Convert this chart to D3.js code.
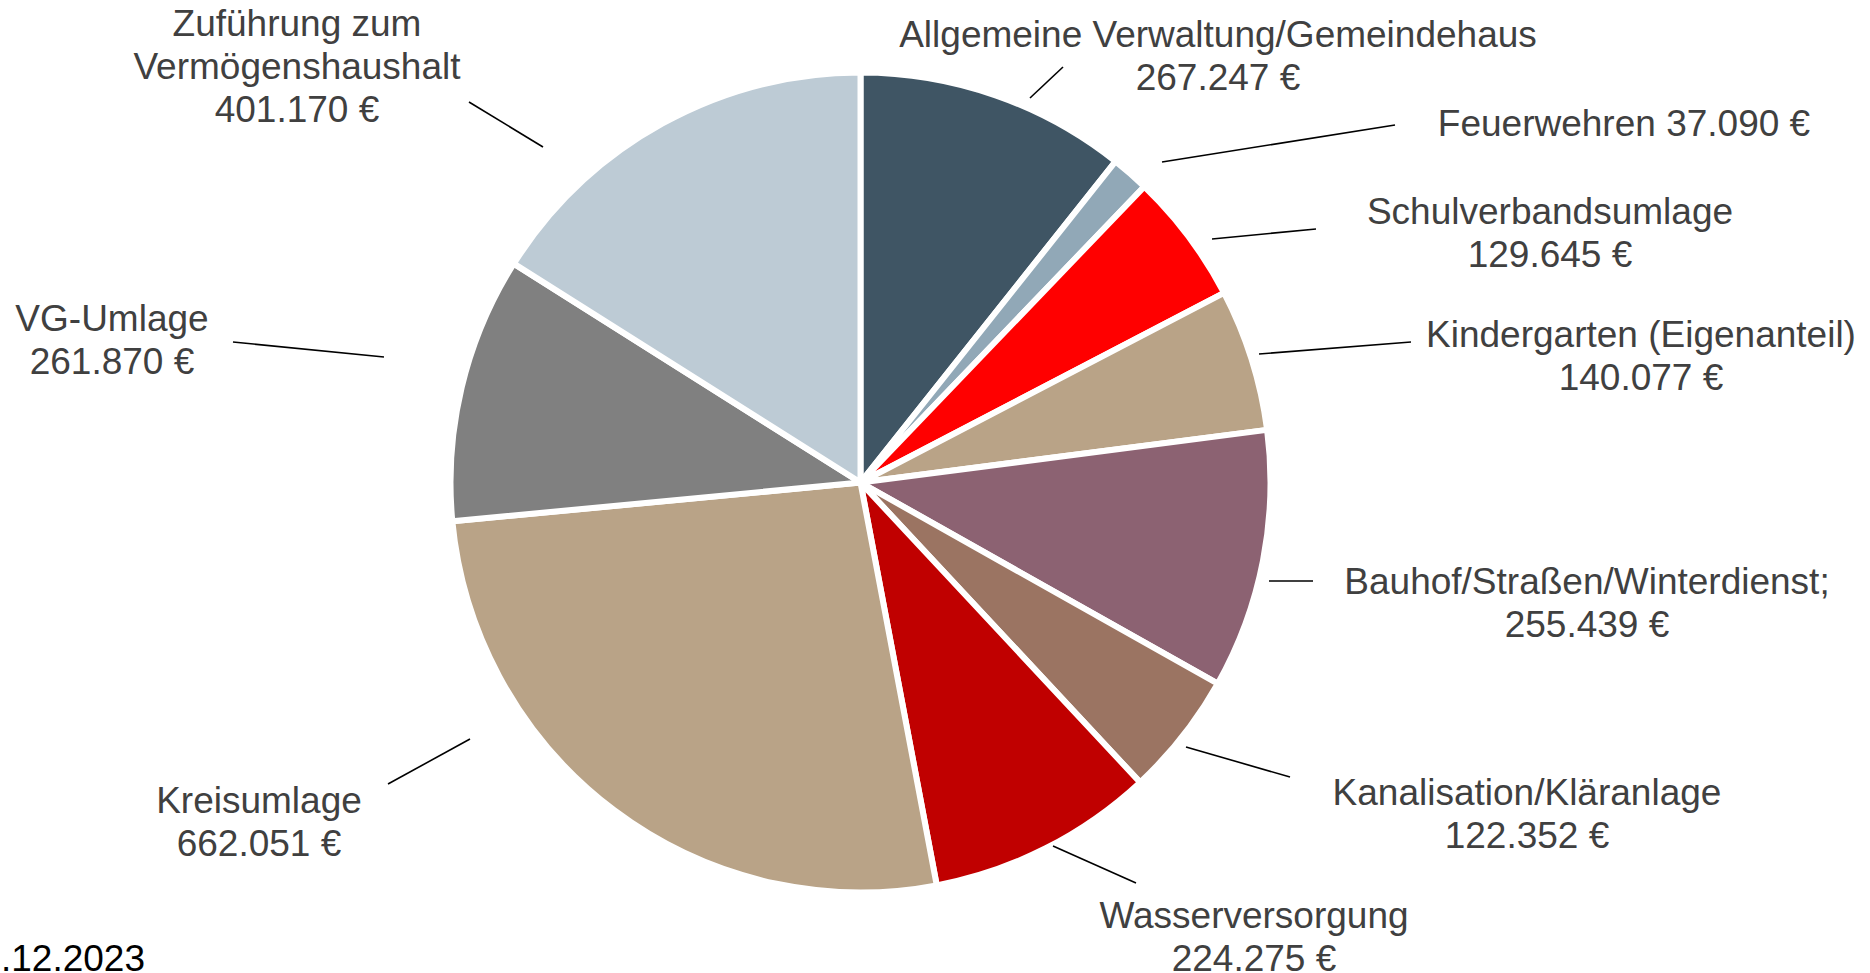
<!DOCTYPE html>
<html><head><meta charset="utf-8">
<script src="https://cdn.jsdelivr.net/npm/d3@7"></script>
<style>
html,body{margin:0;padding:0;background:#fff;overflow:hidden;}
svg{display:block;}
</style></head>
<body>
<svg id="chart" width="1870" height="973"></svg>
<script>
// ---- data ----
const categories = [
  "Allgemeine Verwaltung/Gemeindehaus",
  "Feuerwehren",
  "Schulverbandsumlage",
  "Kindergarten (Eigenanteil)",
  "Bauhof/Straßen/Winterdienst;",
  "Kanalisation/Kläranlage",
  "Wasserversorgung",
  "Kreisumlage",
  "VG-Umlage",
  "Zuführung zum Vermögenshaushalt"
];
const values = [267247, 37090, 129645, 140077, 255439, 122352, 224275, 662051, 261870, 401170];
const colors = ["#3F5564", "#91A8B7", "#FF0000", "#B9A387", "#8C6272", "#9B7462", "#C00000", "#B9A387", "#808080", "#BDCBD5"];
// label text lines (value line appended from values)
const labelLines = [
  ["Allgemeine Verwaltung/Gemeindehaus"],
  [],
  ["Schulverbandsumlage"],
  ["Kindergarten (Eigenanteil)"],
  ["Bauhof/Straßen/Winterdienst;"],
  ["Kanalisation/Kläranlage"],
  ["Wasserversorgung"],
  ["Kreisumlage"],
  ["VG-Umlage"],
  ["Zuführung zum", "Vermögenshaushalt"]
];
const footnote = ".12.2023";

// ---- layout (annotation placement) ----
const cx = 860.5, cy = 482.5, R = 410;
// label centre x, first-line baseline y
const labelPos = [
  [1218, 47], [1624, 136], [1550, 224], [1641, 347], [1587, 594],
  [1527, 805], [1254, 928], [259, 813], [112, 331], [297, 36]
];
// leader lines: [x1,y1,x2,y2]
const leaders = [
  [1030, 98, 1063, 67], [1162, 162, 1395, 125], [1212, 239, 1316, 229],
  [1259, 354, 1411, 342], [1269, 581, 1313, 581], [1186, 747, 1290, 777],
  [1053, 846, 1136, 883], [388, 784, 470, 739], [233, 342, 384, 357],
  [469, 102, 543, 147]
];

const fmt = v => d3.format(",")(v).replace(/,/g, ".") + " €";

const svg = d3.select("#chart");
const pie = d3.pie().sort(null).value(d => d)(values);
const arc = d3.arc().innerRadius(0).outerRadius(R);

const g = svg.append("g").attr("transform", `translate(${cx},${cy})`);
g.selectAll("path.slice").data(pie).enter().append("path")
  .attr("class", "slice")
  .attr("d", arc)
  .attr("fill", (d, i) => colors[i])
  .attr("stroke", "#fff")
  .attr("stroke-width", 6)
  .attr("stroke-linejoin", "round");

svg.selectAll("line.leader").data(leaders).enter().append("line")
  .attr("class", "leader")
  .attr("x1", d => d[0]).attr("y1", d => d[1])
  .attr("x2", d => d[2]).attr("y2", d => d[3])
  .attr("stroke", "#000").attr("stroke-width", 1.6);

const lineH = 43;
values.forEach((v, i) => {
  let lines = labelLines[i].slice();
  if (i === 1) lines = ["Feuerwehren " + fmt(v)];
  else lines.push(fmt(v));
  const t = svg.append("text")
    .attr("x", labelPos[i][0]).attr("y", labelPos[i][1])
    .attr("text-anchor", "middle")
    .attr("font-family", "Liberation Sans, Arial, sans-serif")
    .attr("font-size", 37)
    .attr("fill", "#404040");
  lines.forEach((l, k) => {
    t.append("tspan").attr("x", labelPos[i][0]).attr("dy", k === 0 ? 0 : lineH).text(l);
  });
});

svg.append("text")
  .attr("x", 1).attr("y", 971)
  .attr("font-family", "Liberation Sans, Arial, sans-serif")
  .attr("font-size", 37)
  .attr("fill", "#000")
  .text(footnote);
</script>
</body></html>
